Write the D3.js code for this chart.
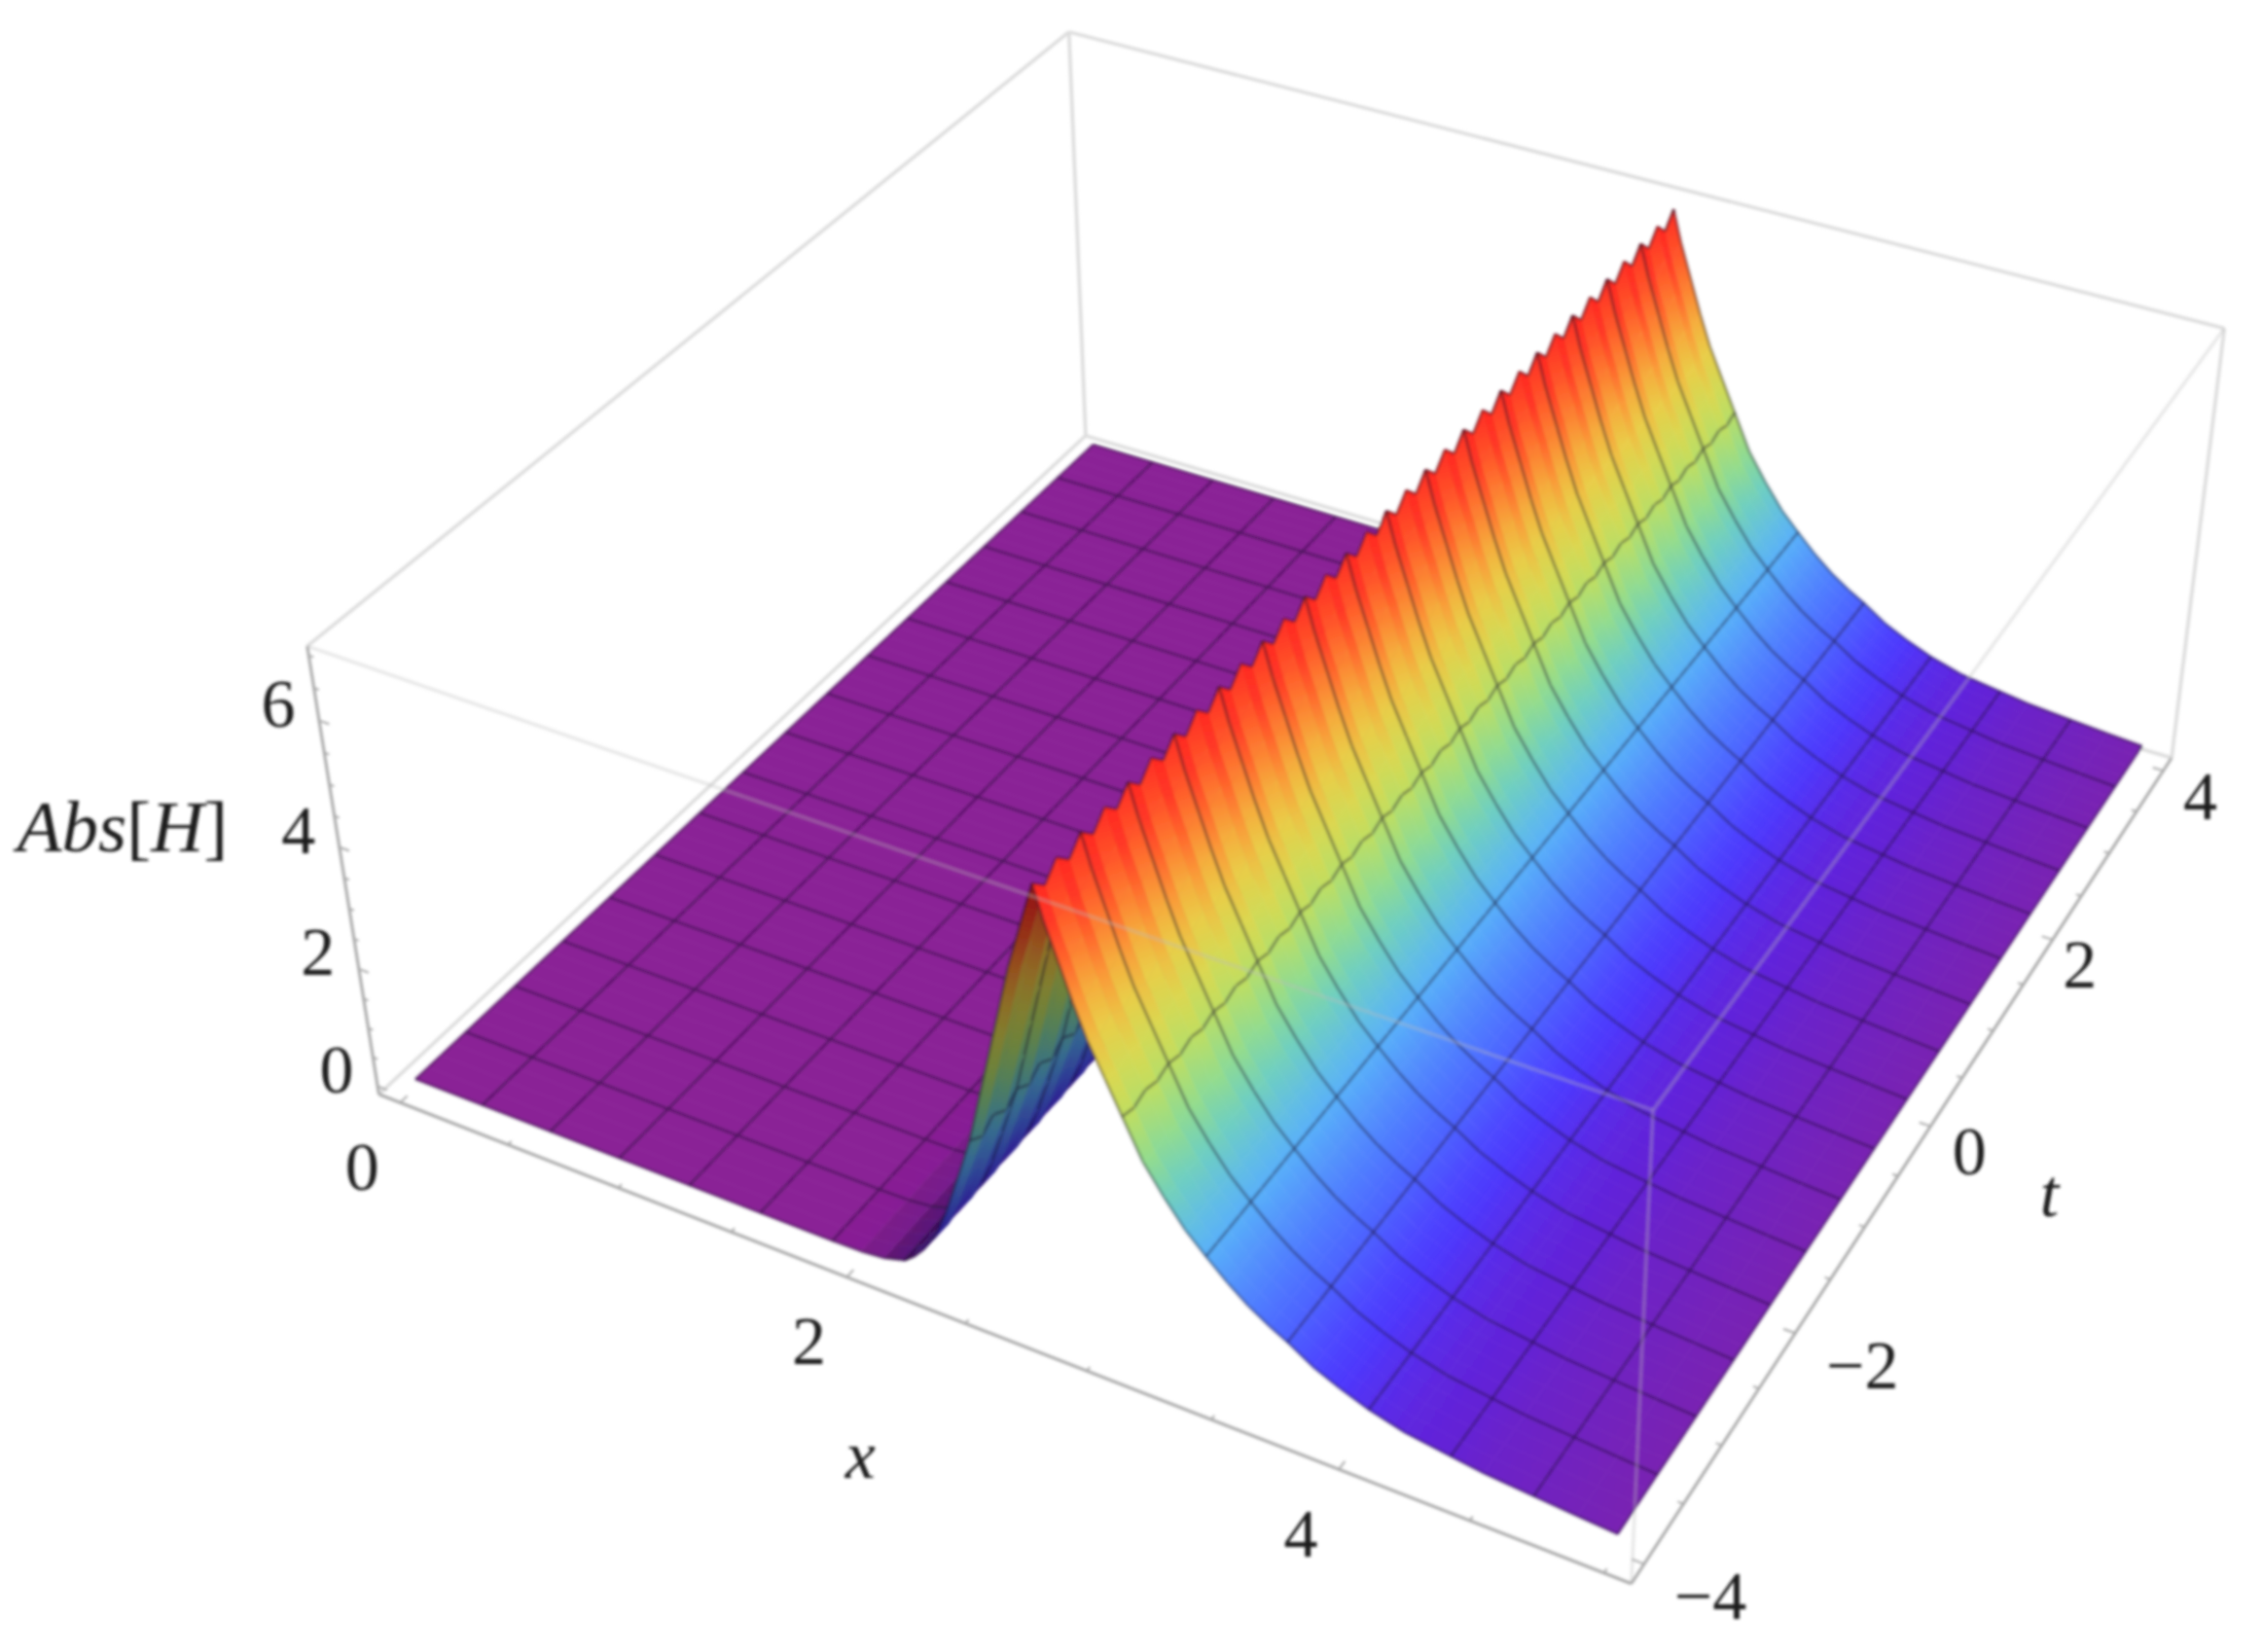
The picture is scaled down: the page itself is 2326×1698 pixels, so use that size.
<!DOCTYPE html>
<html>
<head>
<meta charset="utf-8">
<script src="https://cdn.jsdelivr.net/npm/d3@7"></script>
<style>
  html, body { margin: 0; background: #fff; }
  text { font-family: "Liberation Serif", serif; fill: #1c1c1c; }
</style>
</head>
<body>
<div id="chart"></div>
<script>
var width = 2326,
    height = 1698;

// profile of |H| along x (same shape for every t)
var profileX = [0, 0.3125, 0.625, 0.9375, 1.25, 1.5625, 1.875, 2.0, 2.1, 2.1875, 2.23, 2.27, 2.33, 2.38, 2.43, 2.47, 2.5, 2.54, 2.58, 2.62, 2.66, 2.7, 2.74, 2.78, 2.8125,
                2.85, 2.9, 2.95, 3.0, 3.0625, 3.125, 3.2, 3.28, 3.36, 3.4375, 3.52, 3.6, 3.68, 3.75, 3.85, 3.95, 4.0625, 4.2, 4.375, 4.5, 4.6875, 4.85, 5];
var profileZ = [0, 0, 0, 0, 0, 0, 0, 0.01, 0.05, 0.15, 0.28, 0.45, 0.8, 1.25, 1.8, 2.25, 2.6, 3.2, 3.8, 4.4, 5.0, 5.6, 6.1, 6.6, 7.0,
                6.5, 5.95, 5.4, 4.9, 4.4, 3.9, 3.3, 2.85, 2.45, 2.15, 1.85, 1.6, 1.4, 1.25, 1.0, 0.82, 0.65, 0.5, 0.4, 0.33, 0.27, 0.22, 0.18];
// how far every second t sample sits below that profile (the saw teeth on the crest)
var profileDrop = [0, 0, 0, 0, 0, 0, 0, 0, 0, 0, 0, 0.02, 0.05, 0.08, 0.1, 0.12, 0.14, 0.15, 0.16, 0.17, 0.18, 0.19, 0.2, 0.2, 0.22,
                   0.2, 0.17, 0.15, 0.12, 0.09, 0.07, 0.05, 0.03, 0, 0, 0, 0, 0, 0, 0, 0, 0, 0, 0, 0, 0, 0, 0];

var meshX = [0.3125, 0.625, 0.9375, 1.25, 1.5625, 1.875, 2.1875, 2.5, 2.8125, 3.125, 3.4375, 3.75, 4.0625, 4.375, 4.6875];
var tSamples = d3.range(-4, 4.0001, 0.125);
var meshEvery = 4;

var xTicks = [0, 2, 4];
var tTicks = [-4, -2, 0, 2, 4];
var zTicks = [0, 2, 4, 6];
var xMinor = [0.5, 1, 1.5, 2.5, 3, 3.5, 4.5, 5];
var tMinor = [-3.5, -3, -2.5, -1.5, -1, -0.5, 0.5, 1, 1.5, 2.5, 3, 3.5];
var zMinor = [0.5, 1, 1.5, 2.5, 3, 3.5, 4.5, 5, 5.5, 6.5, 7];

// rainbow colour function of the surface
var colorValues = [0, 0.4, 0.85, 1.55, 2.2, 2.8, 3.3, 3.9, 4.6, 5.3, 5.9, 6.5, 7];
var colorStops = ["#8a2096", "#6420d4", "#4c3aff", "#4f7cff", "#5ab4f8", "#6fcfc0", "#94dc8c", "#c0de60", "#e6d44a", "#f9a43a", "#ff6a2c", "#ff3826", "#ff2a22"];

var x = d3.scaleLinear().domain([-0.1, 5.1]).range([0, 1]);
var t = d3.scaleLinear().domain([-4.16, 4.16]).range([0, 1]);
var z = d3.scaleLinear().domain([-0.14, 7.14]).range([0, 1]);
var color = d3.scaleLinear().domain(colorValues).range(colorStops).clamp(true);

// where the corners of the plot box land in the picture, used to fit the camera
var boxCorners = [
  [0, 0, 0, 389, 1124], [1, 0, 0, 1676, 1629], [1, 1, 0, 2233, 774], [0, 1, 0, 1116, 452],
  [0, 0, 1, 317, 663], [1, 0, 1, 1699, 1142], [1, 1, 1, 2286, 341], [0, 1, 1, 1098, 30]
];

var camera = fitCamera(boxCorners);

function fitCamera(corners) {
  // least squares for the 11 unknowns of a 3x4 projection matrix
  var n = 11;
  var M = d3.range(n).map(function() { return d3.range(n + 1).map(function() { return 0; }); });
  corners.forEach(function(c) {
    var u = c[3] / 1000, v = c[4] / 1000;
    var rows = [
      [c[0], c[1], c[2], 1, 0, 0, 0, 0, -u * c[0], -u * c[1], -u * c[2], u],
      [0, 0, 0, 0, c[0], c[1], c[2], 1, -v * c[0], -v * c[1], -v * c[2], v]
    ];
    rows.forEach(function(r) {
      for (var i = 0; i < n; i++) for (var j = 0; j <= n; j++) M[i][j] += r[i] * r[j];
    });
  });
  for (var i = 0; i < n; i++) {
    var p = i;
    for (var k = i + 1; k < n; k++) if (Math.abs(M[k][i]) > Math.abs(M[p][i])) p = k;
    var tmp = M[i]; M[i] = M[p]; M[p] = tmp;
    for (var k2 = 0; k2 < n; k2++) {
      if (k2 == i) continue;
      var f = M[k2][i] / M[i][i];
      for (var j = i; j <= n; j++) M[k2][j] -= f * M[i][j];
    }
  }
  return M.map(function(r, i) { return r[n] / r[i]; });
}

function project(xv, tv, zv) {
  var X = x(xv), Y = t(tv), Z = z(zv), c = camera;
  var w = c[8] * X + c[9] * Y + c[10] * Z + 1;
  return [1000 * (c[0] * X + c[1] * Y + c[2] * Z + c[3]) / w,
          1000 * (c[4] * X + c[5] * Y + c[6] * Z + c[7]) / w];
}

function zAt(i, j) {
  return Math.max(0, profileZ[i] - (j % 2 ? profileDrop[i] : 0));
}

// the teeth show up as stripes in the colours, a bit stronger than in the height
function shadeAt(i, j) {
  return Math.max(0, profileZ[i] - (j % 2 ? profileDrop[i] * 1.6 : 0));
}

var svg = d3.select("#chart").append("svg")
    .attr("width", width)
    .attr("height", height);
var defs = svg.append("defs");
defs.append("filter").attr("id", "soft")
    .attr("filterUnits", "userSpaceOnUse")
    .attr("x", 0).attr("y", 0).attr("width", width).attr("height", height)
  .append("feGaussianBlur").attr("stdDeviation", 1.4);

var g = svg.append("g").attr("filter", "url(#soft)");
var line = d3.line();

var x0 = x.domain()[0], x1 = x.domain()[1],
    t0 = t.domain()[0], t1 = t.domain()[1],
    z0 = z.domain()[0], z1 = z.domain()[1];

function edge(a, b, stroke, w) {
  g.append("path")
      .attr("d", line([project(a[0], a[1], a[2]), project(b[0], b[1], b[2])]))
      .attr("fill", "none")
      .attr("stroke", stroke)
      .attr("stroke-width", w);
}

// box edges behind the surface
var backColor = "#dcdcdc";
edge([x0, t1, z0], [x0, t1, z1], backColor, 3.5);
edge([x1, t1, z0], [x1, t1, z1], backColor, 3.5);
edge([x0, t1, z1], [x1, t1, z1], backColor, 3.5);
edge([x0, t0, z1], [x0, t1, z1], backColor, 3.5);
edge([x0, t0, z0], [x0, t1, z0], backColor, 3.5);
edge([x0, t1, z0], [x1, t1, z0], backColor, 3.5);

// surface, painted far to near: t from high to low, x from low to high
var meshStroke = "rgba(20,10,40,0.36)";
var meshWidth = 3.2;
var isMeshX = profileX.map(function(v) { return meshX.indexOf(v) >= 0; });
var gid = 0;

function segment(a, b) {
  g.append("path")
      .attr("d", line([a, b]))
      .attr("fill", "none")
      .attr("stroke", meshStroke)
      .attr("stroke-width", meshWidth);
}

for (var j = tSamples.length - 2; j >= 0; j--) {
  for (var i = 0; i < profileX.length - 1; i++) {
    var a = project(profileX[i], tSamples[j], zAt(i, j)),
        b = project(profileX[i + 1], tSamples[j], zAt(i + 1, j)),
        c = project(profileX[i + 1], tSamples[j + 1], zAt(i + 1, j + 1)),
        d = project(profileX[i], tSamples[j + 1], zAt(i, j + 1));
    var zl = shadeAt(i, j), zr = shadeAt(i + 1, j);
    var slope = (profileZ[i + 1] - profileZ[i]) / (profileX[i + 1] - profileX[i]);
    // the rising flank is seen from underneath, so it is darker
    var dark = slope > 0 ? Math.min(1.5, slope * 0.8) : 0;
    var cl = d3.rgb(color(zl)).darker(dark).formatRgb(),
        cr = d3.rgb(color(zr)).darker(dark).formatRgb();
    var paint = cl;
    if (zl != zr) {
      var id = "s" + (gid++);
      var grad = defs.append("linearGradient").attr("id", id)
          .attr("gradientUnits", "userSpaceOnUse")
          .attr("x1", (a[0] + d[0]) / 2).attr("y1", (a[1] + d[1]) / 2)
          .attr("x2", (b[0] + c[0]) / 2).attr("y2", (b[1] + c[1]) / 2);
      grad.append("stop").attr("offset", 0).attr("stop-color", cl);
      grad.append("stop").attr("offset", 1).attr("stop-color", cr);
      paint = "url(#" + id + ")";
    }
    g.append("path")
        .attr("d", line([a, b, c, d]) + "Z")
        .attr("fill", paint)
        .attr("stroke", paint)
        .attr("stroke-width", 0.7);
    // mesh lines and the outline of the surface
    if (isMeshX[i] || i == 0) segment(a, d);
    if (i == profileX.length - 2) segment(b, c);
    if ((j + 1) % meshEvery == 0) segment(c, d);
    if (j == 0) segment(a, b);
  }
}

// box edges in front of the surface
var frontColor = "rgba(190,190,190,0.35)";
edge([x0, t0, z1], [x1, t0, z1], frontColor, 3.5);
edge([x1, t0, z1], [x1, t1, z1], frontColor, 3.5);
edge([x1, t0, z0], [x1, t0, z1], frontColor, 3.5);

// axis edges and ticks
var axisColor = "#a8a8a8";
edge([x0, t0, z0], [x1, t0, z0], axisColor, 3);
edge([x1, t0, z0], [x1, t1, z0], axisColor, 3);
edge([x0, t0, z0], [x0, t0, z1], axisColor, 3);

function xTick(v, len) { edge([v, t0, z0], [v, t0 + len, z0], axisColor, 2); }
function tTick(v, len) { edge([x1, v, z0], [x1 - len, v, z0], axisColor, 2); }
function zTick(v, len) { edge([x0, t0, v], [x0 + len, t0, v], axisColor, 2); }
xTicks.forEach(function(v) { xTick(v, 0.07); });
xMinor.forEach(function(v) { xTick(v, 0.035); });
tTicks.forEach(function(v) { tTick(v, 0.045); });
tMinor.forEach(function(v) { tTick(v, 0.022); });
zTicks.forEach(function(v) { zTick(v, 0.045); });
zMinor.forEach(function(v) { zTick(v, 0.022); });

// labels
function label(p, str, italic) {
  return g.append("text")
      .attr("x", p[0])
      .attr("y", p[1])
      .attr("text-anchor", "middle")
      .attr("dominant-baseline", "central")
      .attr("font-size", 70)
      .attr("font-style", italic ? "italic" : "normal")
      .text(str);
}
function shifted(p, dx, dy) { return [p[0] + dx, p[1] + dy]; }
function tickText(v) { return v < 0 ? "\u2212" + (-v) : "" + v; }

var tLabelNudge = [[68, 33], [69, 33], [40, 26], [28, 26], [38, 26]];

xTicks.forEach(function(v) { label(shifted(project(v, t0, z0), -39, 66), tickText(v)); });
tTicks.forEach(function(v, n) { label(shifted(project(x1, v, z0), tLabelNudge[n][0], tLabelNudge[n][1]), tickText(v)); });
zTicks.forEach(function(v) { label(shifted(project(x0, t0, v), -42, -17), tickText(v)); });

label(shifted(project(2.5, t0, z0), -108, 135), "x", true);
label(shifted(project(x1, 0, z0), 122, 69), "t", true);

var zTitle = g.append("text")
    .attr("x", 126)
    .attr("y", 849)
    .attr("text-anchor", "middle")
    .attr("dominant-baseline", "central")
    .attr("font-size", 75)
    .attr("font-style", "italic");
zTitle.append("tspan").text("Abs");
zTitle.append("tspan").attr("font-style", "normal").text("[");
zTitle.append("tspan").text("H");
zTitle.append("tspan").attr("font-style", "normal").text("]");
</script>
</body>
</html>
